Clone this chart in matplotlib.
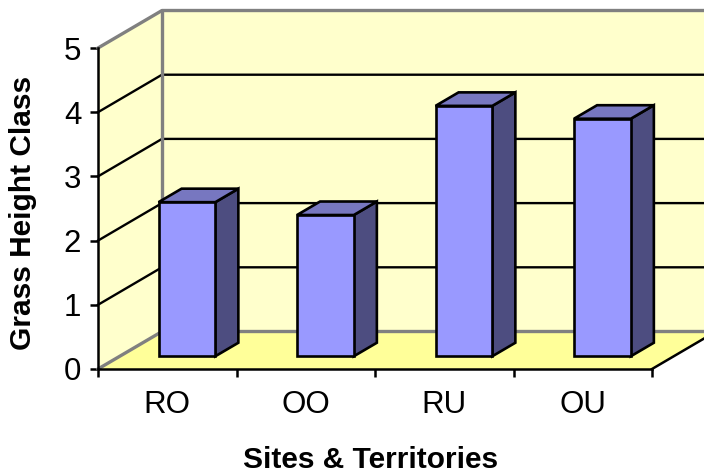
import matplotlib
matplotlib.use("Agg")
import matplotlib.pyplot as plt
from matplotlib.patches import Polygon

# data
cats = ["RO", "OO", "RU", "OU"]
heights = [2.4, 2.2, 3.9, 3.7]
yticks = [0, 1, 2, 3, 4, 5]

plt.rcParams['font.family'] = ['Liberation Sans', 'DejaVu Sans']

W, H = 704, 476
fig = plt.figure(figsize=(W / 100, H / 100), dpi=100)
ax = fig.add_axes([98 / W, (H - 369) / H, 554 / W, 321 / H])
ax.set_xlim(0, len(cats))
ax.set_ylim(0, yticks[-1])
ax.patch.set_visible(False)

# oblique depth offset (full depth) in data units
DX, DY = 0.462, 0.584
NX, TOP = len(cats), yticks[-1]


def pt(x, y, d):
    return (x + d * DX, y + d * DY)


def poly(pts, fc, ec='none', lw=0, z=1):
    ax.add_patch(Polygon(pts, closed=True, facecolor=fc, edgecolor=ec,
                         linewidth=lw, zorder=z, clip_on=False,
                         joinstyle='miter'))


wall = '#FFFFCC'
floorc = '#FFFF99'
edge_gray = '#808080'

# walls and floor
poly([pt(0, 0, 0), pt(0, TOP, 0), pt(0, TOP, 1), pt(0, 0, 1)], wall)
poly([pt(0, 0, 1), pt(0, TOP, 1), pt(NX, TOP, 1), pt(NX, 0, 1)], wall)
poly([pt(0, 0, 0), pt(NX, 0, 0), pt(NX, 0, 1), pt(0, 0, 1)], floorc)

# gridlines on side + back wall
for v in yticks[1:-1]:
    a, b, c = pt(0, v, 0), pt(0, v, 1), pt(NX, v, 1)
    ax.plot([a[0], b[0], c[0]], [a[1], b[1], c[1]], color='black',
            lw=1.7, clip_on=False, zorder=1.5, solid_joinstyle='miter')

# grey outline of the walls
for v in (0, TOP):
    a, b, c = pt(0, v, 0), pt(0, v, 1), pt(NX, v, 1)
    ax.plot([a[0], b[0], c[0]], [a[1], b[1], c[1]], color=edge_gray,
            lw=2.4, clip_on=False, zorder=1.6)
a, b = pt(0, 0, 1), pt(0, TOP, 1)
ax.plot([a[0], b[0]], [a[1], b[1]], color=edge_gray, lw=2.4,
        clip_on=False, zorder=1.6)

# floor right edge
a, b = pt(NX, 0, 0), pt(NX, 0, 1)
ax.plot([a[0], b[0]], [a[1], b[1]], color='black', lw=1.8,
        clip_on=False, zorder=2.6)

# bars
front_c, side_c, top_c = '#9999FF', '#4D4D80', '#7777C0'
bw, f0, f1 = 0.41, 0.34, 0.70
for i, h in enumerate(heights):
    x0 = i + 0.485 - bw / 2
    x1 = x0 + bw
    poly([pt(x1, 0, f0), pt(x1, 0, f1), pt(x1, h, f1), pt(x1, h, f0)],
         side_c, 'black', 1.9, 3)
    poly([pt(x0, h, f0), pt(x1, h, f0), pt(x1, h, f1), pt(x0, h, f1)],
         top_c, 'black', 1.9, 3)
    poly([pt(x0, 0, f0), pt(x1, 0, f0), pt(x1, h, f0), pt(x0, h, f0)],
         front_c, 'black', 1.9, 3)

# axes
for s in ('top', 'right'):
    ax.spines[s].set_visible(False)
for s in ('left', 'bottom'):
    ax.spines[s].set_linewidth(1.8)
    ax.spines[s].set_zorder(2.6)

ax.set_yticks(yticks)
ax.set_xticks(range(NX + 1))
ax.set_xticklabels([])
ax.set_xticks([i + 0.5 for i in range(NX)], minor=True)
ax.set_xticklabels(cats, minor=True)
ax.tick_params(axis='x', which='major', direction='out', length=6, width=1.8)
ax.tick_params(axis='x', which='minor', length=0, pad=15, labelsize=22.5)
ax.tick_params(axis='y', direction='out', length=6, width=1.8, pad=6,
               labelsize=22.5)

fig.text(23 / W, 1 - 213 / H, 'Grass Height Class', rotation=90,
         ha='center', va='center', fontsize=21.5, fontweight='bold')
fig.text(371 / W, 1 - 460 / H, 'Sites & Territories', ha='center',
         va='center', fontsize=21.5, fontweight='bold')

fig.savefig('out.png', dpi=100)
